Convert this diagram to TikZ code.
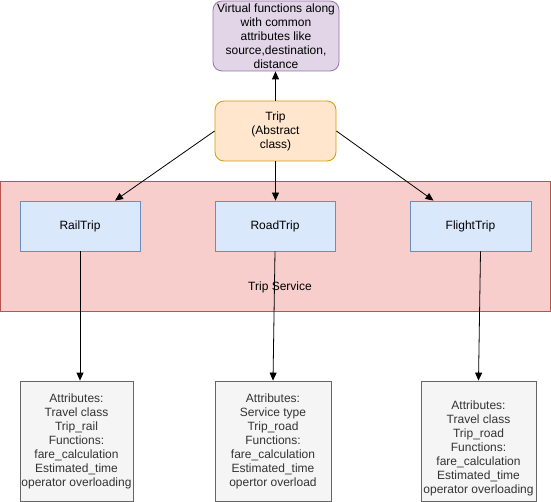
\documentclass[tikz,border=0pt]{standalone}
\usepackage{fontspec}
\setmainfont{Liberation Sans}
\usetikzlibrary{arrows.meta,calc}
\definecolor{purpleF}{HTML}{E1D5E7}\definecolor{purpleD}{HTML}{9673A6}
\definecolor{orangeF}{HTML}{FFE6CC}\definecolor{orangeD}{HTML}{D79B00}
\definecolor{redF}{HTML}{F8CECC}\definecolor{redD}{HTML}{B85450}
\definecolor{blueF}{HTML}{DAE8FC}\definecolor{blueD}{HTML}{6C8EBF}
\definecolor{grayF}{HTML}{F5F5F5}\definecolor{grayD}{HTML}{666666}
\definecolor{grayT}{HTML}{333333}
\begin{document}
\begin{tikzpicture}[x=1pt,y=-1pt,
  every node/.style={font=\fontsize{12}{14}\selectfont, align=center, inner sep=0pt},
  box/.style={draw, line width=0.8pt, minimum width=#1},
  roundbox/.style={box=#1, rounded corners=9pt},
  purplebox/.style={roundbox=126pt, fill=purpleF, draw=purpleD, minimum height=70pt},
  orangebox/.style={roundbox=121pt, fill=orangeF, draw=orangeD, minimum height=60pt},
  bluebox/.style={box=120pt, fill=blueF, draw=blueD, minimum height=50pt},
  graybox/.style={box=114pt, fill=grayF, draw=grayD, minimum height=120pt, text=grayT},
  conn/.style={line width=0.8pt, -{Triangle[length=8pt,width=7pt]}},
]
\useasboundingbox (0,0) rectangle (551,502);
\node[draw=redD, fill=redF, line width=0.8pt, minimum width=550pt, minimum height=130pt] (svc) at (275,246) {};
\node (svclabel) at (280,287) {Trip Service};

\node[purplebox] (virt) at (276,36) {Virtual functions along\\with common\\attributes like\\source,destination,\\distance};
\node[orangebox] (trip) at (275.5,131) {Trip\\(Abstract\\class)};

\node[bluebox] (rail) at (80,226) {RailTrip};
\node[bluebox] (road) at (275,226) {RoadTrip};
\node[bluebox, minimum width=121pt] (flight) at (470.5,226) {FlightTrip};

\node[graybox, minimum width=113pt] (attrL) at (76.5,441) {Attributes:\\Travel class\\Trip\_rail\\Functions:\\fare\_calculation\\Estimated\_time\\operator overloading};
\node[graybox, minimum width=116pt] (attrM) at (273,441) {Attributes:\\Service type\\Trip\_road\\Functions:\\fare\_calculation\\Estimated\_time\\opertor overload};
\node[graybox, minimum width=115pt] (attrR) at (478.5,441) {};
\node[text=grayT] (attrRtext) at (478.5,448) {Attributes:\\Travel class\\Trip\_road\\Functions:\\fare\_calculation\\Estimated\_time\\operator overloading};

\draw[conn] (trip.north) -- (trip.north |- virt.south);
\draw[conn] (trip.south) -- (trip.south |- road.north);
\draw[conn] (trip.west) -- ([xshift=35pt]rail.north);
\draw[conn] (trip.east) -- ([xshift=-37pt]flight.north);

\draw[conn] (rail.south) -- (rail.south |- attrL.north);
\draw[conn] (road.south) -- (attrM.north);
\draw[conn] ([xshift=10pt]flight.south) -- (attrR.north);
\end{tikzpicture}
\end{document}
